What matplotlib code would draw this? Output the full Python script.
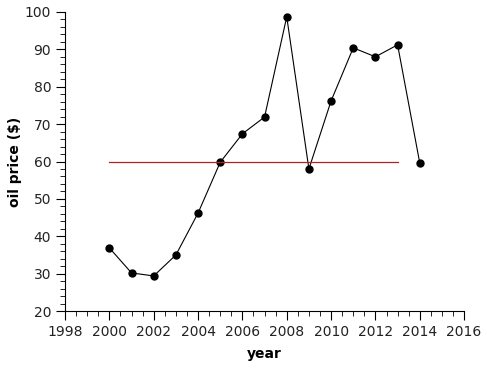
import matplotlib
matplotlib.use("Agg")
import matplotlib.pyplot as plt
from matplotlib.ticker import MultipleLocator

years = [2000, 2001, 2002, 2003, 2004, 2005, 2006, 2007, 2008, 2009, 2010, 2011, 2012, 2013, 2014]
price = [36.9, 30.2, 29.4, 35.0, 46.2, 59.8, 67.4, 71.9, 98.7, 58.0, 76.2, 90.4, 88.0, 91.2, 59.6]
ref_years = [2000, 2013]
ref_level = [60, 60]

fig = plt.figure(figsize=(4.87, 3.73), dpi=100)
ax = fig.add_axes([0.1335, 0.166, 0.8195, 0.802])

ax.plot(years, price, color="black", linewidth=0.8, marker="o", markersize=5)
ax.plot(ref_years, ref_level, color="#b22222", linewidth=0.9)

ax.set_xlim(1998, 2016)
ax.set_ylim(20, 100)
ax.xaxis.set_major_locator(MultipleLocator(2))
ax.xaxis.set_minor_locator(MultipleLocator(0.5))
ax.yaxis.set_major_locator(MultipleLocator(10))
ax.yaxis.set_minor_locator(MultipleLocator(2))
ax.tick_params(which="major", length=6.5, direction="out", labelsize=10, labelcolor="#222222")
ax.tick_params(which="minor", length=3.5, direction="out")

ax.spines["top"].set_visible(False)
ax.spines["right"].set_visible(False)

ax.set_xlabel("year", fontweight="bold", fontsize=10, labelpad=6)
ax.set_ylabel("oil price ($)", fontweight="bold", fontsize=10, labelpad=2)

fig.savefig("out.png", dpi=100)
